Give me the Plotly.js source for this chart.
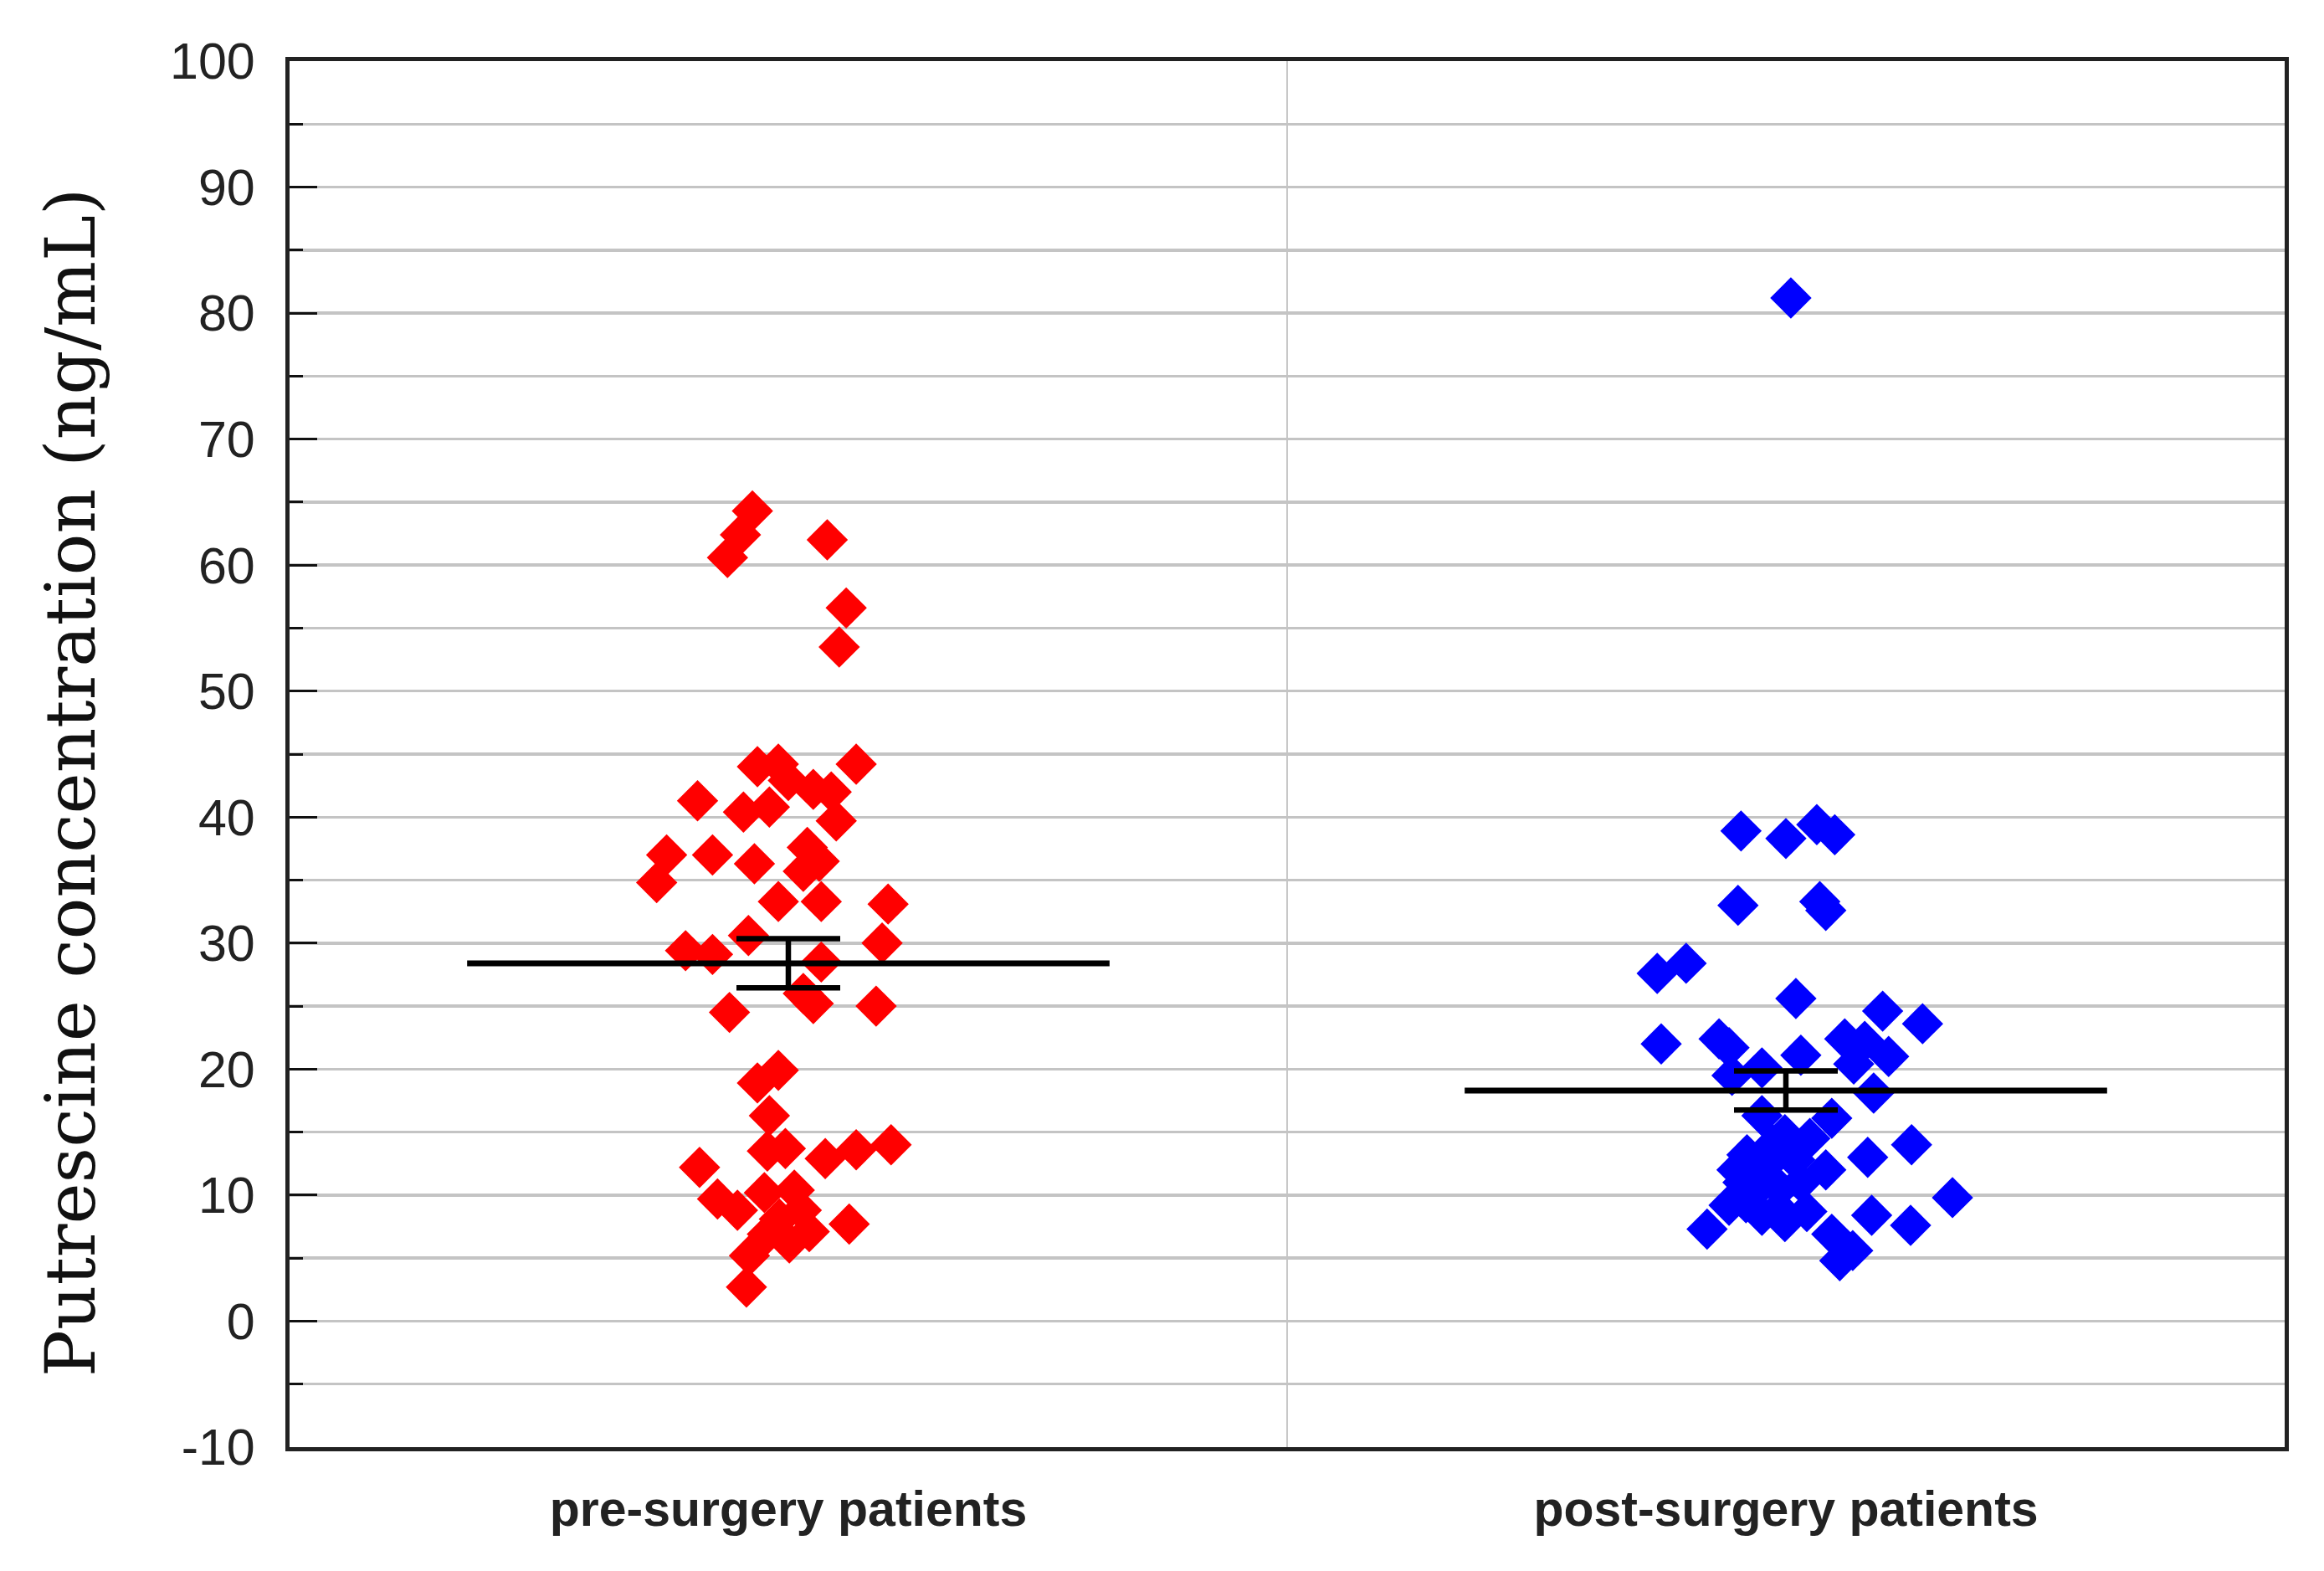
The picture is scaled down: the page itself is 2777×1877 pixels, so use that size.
<!DOCTYPE html>
<html>
<head>
<meta charset="utf-8">
<script src="https://cdn.plot.ly/plotly-3.0.1.min.js"></script>
<style>html,body{margin:0;padding:0;background:#fff;}#chart{width:2777px;height:1877px;}</style>
</head>
<body>
<div id="chart"></div>
<script>
// Categories and tick labels
const categories = ["pre-surgery patients", "post-surgery patients"];
const categoryPos = [0, 1];

// Pre-surgery values (ng/mL) and horizontal jitter
const preValues = [64.3, 62.4, 60.6, 62.0, 56.6, 53.5, 44.0, 44.2, 44.2, 42.9, 42.2, 42.0, 40.8, 40.4, 39.7, 41.3,
  37.0, 34.8, 37.0, 36.3, 37.6, 36.5, 35.7, 33.3, 33.3, 33.1, 29.4, 29.1, 30.6, 30.0, 28.5, 24.5, 25.2, 26.0, 25.0,
  19.9, 18.9, 16.3, 13.7, 13.5, 12.9, 13.6, 14.0, 12.2, 9.7, 8.8, 10.2, 10.4, 8.1, 8.8, 6.9, 6.2, 7.1, 7.7, 5.2, 2.7];
const preJitter = [-0.036, -0.048, -0.061, 0.039, 0.058, 0.051, -0.031, -0.010, 0.068, 0.000, 0.025, 0.043, -0.019, -0.045, 0.048, -0.091,
  -0.122, -0.132, -0.076, -0.034, 0.019, 0.031, 0.015, -0.010, 0.033, 0.100, -0.103, -0.076, -0.040, 0.094, 0.033, -0.059, 0.025, 0.015, 0.088,
  -0.010, -0.031, -0.019, -0.003, -0.021, 0.037, 0.068, 0.103, -0.089, -0.071, -0.051, -0.024, 0.006, -0.009, 0.013, -0.021, 0.001, 0.021, 0.061, -0.039, -0.042];

// Post-surgery values (ng/mL) and horizontal jitter
const postValues = [81.2, 38.9, 38.3, 39.4, 38.6, 33.0, 33.3, 32.6, 27.6, 28.4, 25.6, 22.0, 22.4, 21.7, 21.1, 24.6, 23.6,
  22.4, 22.2, 21.0, 20.4, 19.5, 20.1, 18.1, 16.3, 16.1, 14.8, 14.5, 14.0, 13.0, 12.0, 12.5, 13.2, 11.0, 12.0, 10.4,
  9.4, 9.2, 8.9, 8.7, 8.4, 7.9, 7.3, 9.8, 7.6, 8.4, 6.9, 5.6, 4.8, 11.5, 10.5, 12.8, 14.0, 11.0];
const postJitter = [0.005, -0.045, 0.000, 0.031, 0.049, -0.048, 0.034, 0.040, -0.129, -0.100, 0.010, -0.125, -0.067, -0.057, 0.015, 0.097, 0.137,
  0.059, 0.079, 0.103, 0.068, -0.054, -0.024, 0.088, -0.024, 0.046, -0.001, 0.024, 0.126, 0.082, -0.049, -0.018, -0.039, 0.015, 0.040, -0.030,
  -0.040, -0.057, -0.007, 0.021, -0.024, -0.001, -0.079, 0.167, 0.125, 0.086, 0.046, 0.067, 0.054, -0.028, -0.006, 0.009, -0.013, -0.043];

// Group means and standard errors
const means = [28.4, 18.3];
const sems = [1.95, 1.55];

const yTickVals = [-10, 0, 10, 20, 30, 40, 50, 60, 70, 80, 90, 100];
const yTickText = ["-10", "0", "10", "20", "30", "40", "50", "60", "70", "80", "90", "100"];

const groups = [
  {vals: preValues, jit: preJitter, color: "#ff0000"},
  {vals: postValues, jit: postJitter, color: "#0000ff"}
];

const traces = [];
groups.forEach((g, i) => {
  traces.push({
    type: "scatter", mode: "markers",
    x: g.jit.map(j => categoryPos[i] + j),
    y: g.vals,
    marker: {symbol: "diamond", size: 38, color: g.color, line: {width: 0}},
    hoverinfo: "y", showlegend: false
  });
});
const halfW = 0.322;
means.forEach((m, i) => {
  traces.push({
    type: "scatter", mode: "lines",
    x: [categoryPos[i] - halfW, categoryPos[i] + halfW], y: [m, m],
    line: {color: "#000", width: 7}, showlegend: false, hoverinfo: "skip"
  });
});
traces.push({
  type: "scatter", mode: "markers",
  x: categoryPos, y: means,
  marker: {size: 1, color: "rgba(0,0,0,0)"},
  error_y: {type: "data", array: sems, visible: true, color: "#000", thickness: 6.5, width: 62},
  showlegend: false, hoverinfo: "skip"
});

const layout = {
  width: 2777, height: 1877,
  paper_bgcolor: "#fff", plot_bgcolor: "#fff",
  margin: {l: 346, r: 47, t: 73, b: 148, pad: 0},
  font: {family: "Liberation Sans, Arial, sans-serif", color: "#222"},
  xaxis: {
    range: [-0.5, 1.5], tickmode: "array", tickvals: categoryPos, ticktext: categories,
    showgrid: false, zeroline: false, ticks: "",
    showline: true, mirror: true, linecolor: "#222", linewidth: 5,
    tickfont: {family: "Liberation Sans, Arial, sans-serif", size: 59, color: "#222", weight: "bold"},
    ticklabelstandoff: 18,
    minor: {tickmode: "array", tickvals: [0.5], showgrid: true, gridcolor: "#c8c8c8", gridwidth: 2.5, ticks: ""}
  },
  yaxis: {
    range: [-10, 100], tickmode: "array", tickvals: yTickVals, ticktext: yTickText,
    showgrid: true, gridcolor: "#c4c4c4", gridwidth: 3.5, zeroline: false,
    ticks: "inside", ticklen: 33, tickwidth: 3, tickcolor: "#111",
    showline: true, mirror: true, linecolor: "#222", linewidth: 5,
    tickfont: {family: "Liberation Sans, Arial, sans-serif", size: 61, color: "#222"},
    ticklabelstandoff: 24,
    minor: {dtick: 5, tick0: 0, ticks: "inside", ticklen: 16, tickwidth: 3, tickcolor: "#111", showgrid: true, gridcolor: "#c4c4c4", gridwidth: 3.5}
  },
  annotations: [{
    text: "Putrescine concentration (ng/mL)",
    xref: "paper", yref: "paper", x: -0.1095, y: 0.4795,
    xanchor: "center", yanchor: "middle", textangle: -90, showarrow: false,
    font: {family: "DejaVu Serif, Liberation Serif, serif", size: 83, color: "#111"}
  }]
};

Plotly.newPlot("chart", traces, layout, {staticPlot: true, displayModeBar: false});
</script>
</body>
</html>
